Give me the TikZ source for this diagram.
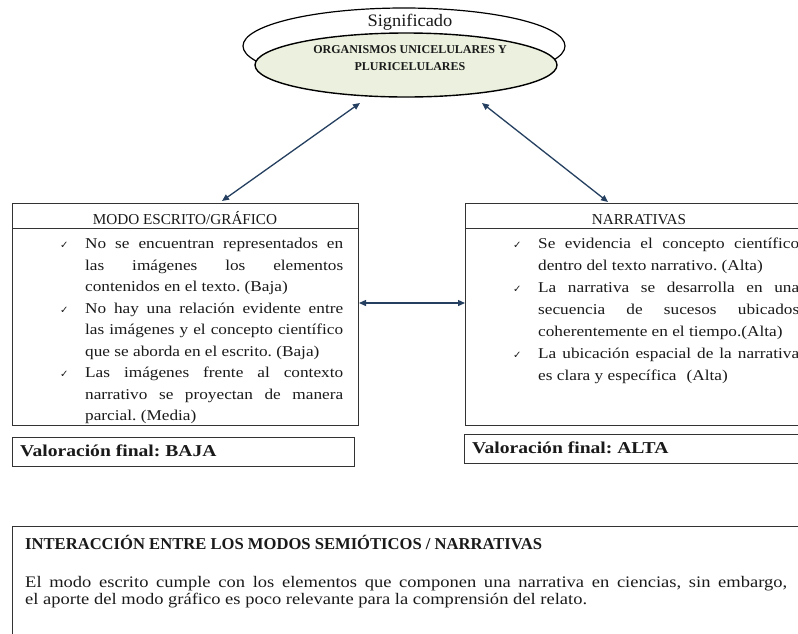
\documentclass[tikz,border=0pt]{standalone}
\usepackage{fontspec}
\setmainfont{Liberation Serif}
\newfontfamily\lfont{Liberation Serif}[FakeStretch=1.15]
\newfontfamily\vfont{Liberation Serif}[FakeStretch=1.18]
\newfontfamily\sigfont{Liberation Serif}[FakeStretch=1.05]
\newfontfamily\symfont{DejaVu Sans}
\usetikzlibrary{shapes.geometric,arrows.meta}
\definecolor{inkc}{HTML}{1A1A1A}
\definecolor{boxc}{HTML}{333333}
\definecolor{arrc}{HTML}{243F60}
\definecolor{ellfill}{HTML}{EBF1DE}
\newcommand{\chk}{\leavevmode\llap{\makebox[25pt][l]{\symfont\fontsize{10}{10}\selectfont ✓}}}
\tikzset{
  boxline/.style={draw=boxc, line width=1.3pt},
  panel/.style={boxline, anchor=north west, inner sep=0pt},
  bodytext/.style={anchor=north west, inner sep=0pt, align=justify, text=inkc},
  headtext/.style={text=inkc, font=\fontsize{15.2}{17}\selectfont, inner sep=0pt, anchor=base},
  valtext/.style={text=inkc, font=\vfont\bfseries\fontsize{16.6}{18}\selectfont, inner sep=0pt, anchor=base west},
  arr/.style={draw=arrc, line width=1.3pt, {Triangle[length=7pt,width=6pt]}-{Triangle[length=7pt,width=6pt]}},
}
\begin{document}
\frenchspacing
\hyphenpenalty=10000
\exhyphenpenalty=10000
\begin{tikzpicture}[x=1pt,y=-1pt]
\clip (0,0) rectangle (798,633);
\fill[white] (0,0) rectangle (798,633);

% ellipses
\node (outer) [draw=black, line width=1.2pt, ellipse, minimum width=322pt, minimum height=76pt, inner sep=0pt] at (404,46) {};
\node (inner) [draw=black, line width=1.4pt, fill=ellfill, ellipse, minimum width=302pt, minimum height=64pt, inner sep=0pt] at (406,65) {};
\node (sig) [text=inkc, font=\sigfont\fontsize{17.5}{19}\selectfont, inner sep=0pt, anchor=base] at (410,26) {Significado};
\node (org) [text=inkc, font=\bfseries\fontsize{12}{17}\selectfont, align=center, inner sep=0pt] at (410,58.5) {ORGANISMOS UNICELULARES Y\\PLURICELULARES};

% left panel
\node (lhead) [panel, minimum width=346pt, minimum height=25pt] at (12,203) {};
\node (lbody) [panel, minimum width=346pt, minimum height=197pt] at (12,228) {};
\node (lhtext) [headtext] at (185,224) {MODO ESCRITO/GRÁFICO};
\node (ltext) [bodytext, text width=258pt, font=\lfont\fontsize{15}{21.5}\selectfont] at (85,238) {%
\chk No se encuentran representados en\linebreak las imágenes los elementos\linebreak contenidos en el texto. (Baja)\par
\chk No hay una relación evidente entre\linebreak las imágenes y el concepto científico\linebreak que se aborda en el escrito. (Baja)\par
\chk Las imágenes frente al contexto\linebreak narrativo se proyectan de manera\linebreak parcial. (Media)};

% right panel
\node (rhead) [panel, minimum width=346pt, minimum height=25pt] at (465,203) {};
\node (rbody) [panel, minimum width=346pt, minimum height=197pt] at (465,228) {};
\node (rhtext) [headtext] at (639,224) {NARRATIVAS};
\node (rtext) [bodytext, text width=261pt, font=\lfont\fontsize{15}{22}\selectfont] at (538,238) {%
\chk Se evidencia el concepto científico\linebreak dentro del texto narrativo. (Alta)\par
\chk La narrativa se desarrolla en una\linebreak secuencia de sucesos ubicados\linebreak coherentemente en el tiempo.(Alta)\par
\chk La ubicación espacial de la narrativa\linebreak es clara y específica\hspace{10pt}(Alta)};

% connectors
\coordinate (ta) at (360,103);
\coordinate (tb) at (482,103);
\coordinate (la) at (222,201);
\coordinate (rb) at (608,202);
\coordinate (ma) at (359,303);
\coordinate (mb) at (465,303);
\draw[arr] (la) -- (ta);
\draw[arr] (rb) -- (tb);
\draw[arr] (ma) -- (mb);

% valoracion boxes
\node (lval) [panel, minimum width=342pt, minimum height=29pt] at (12,437) {};
\node (lvtext) [valtext] at (20,456) {Valoración final: BAJA};
\node (rval) [panel, minimum width=346pt, minimum height=29pt] at (464,434) {};
\node (rvtext) [valtext] at (472,453) {Valoración final: ALTA};

% bottom box
\node (bbox) [panel, minimum width=800pt, minimum height=120pt] at (12,526) {};
\node (bhead) [text=inkc, font=\bfseries\fontsize{16.6}{18}\selectfont, inner sep=0pt, anchor=base west] at (25,549) {INTERACCIÓN ENTRE LOS MODOS SEMIÓTICOS / NARRATIVAS};
\node (btext) [bodytext, text width=762pt, font=\lfont\fontsize{16.1}{17.5}\selectfont] at (25,576) {El modo escrito cumple con los elementos que componen una narrativa en ciencias, sin embargo,\linebreak el aporte del modo gráfico es poco relevante para la comprensión del relato.};
\end{tikzpicture}
\end{document}
